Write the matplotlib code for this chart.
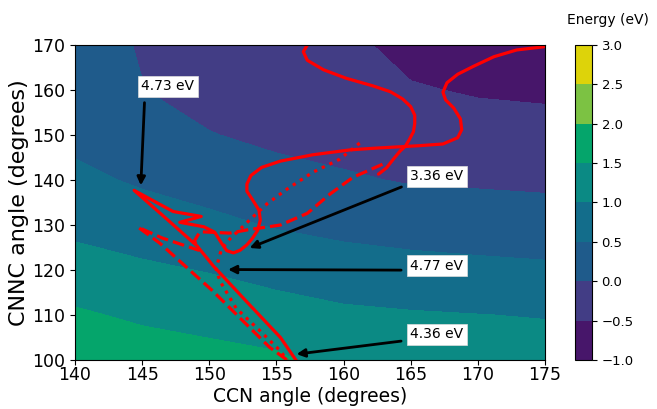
import numpy as np
import matplotlib
matplotlib.use("Agg")
import matplotlib.pyplot as plt

# grid of the energy surface
ccn = [140, 145, 150, 155, 160, 165, 170, 175]
cnnc = [100, 110, 120, 130, 140, 150, 160, 170]
energy = [
    [1.93, 1.755, 1.666, 1.578, 1.32, 1.28, 1.25, 1.22],
    [1.565, 1.42, 1.321, 1.205, 1.09, 1.04, 1.008, 0.976],
    [1.203, 1.084, 0.974, 0.831, 0.716, 0.662, 0.617, 0.579],
    [0.880, 0.738, 0.609, 0.465, 0.369, 0.296, 0.255, 0.218],
    [0.609, 0.438, 0.303, 0.174, 0.056, -0.035, -0.063, -0.092],
    [0.38, 0.243, 0.022, -0.116, -0.18, -0.252, -0.298, -0.333],
    [0.28, 0.01, -0.2, -0.3, -0.32, -0.459, -0.544, -0.578],
    [0.18, -0.03, -0.35, -0.36, -0.38, -0.655, -0.70, -0.75],
]
levels = np.arange(-1.0, 3.01, 0.5)
band_colors = ["#47166a", "#423d85", "#1f5b8b", "#136d8b", "#0b8a84",
               "#05a56b", "#7cc243", "#ddd30a"]

# trajectories (CCN, CNNC)
solid_a_x = [176.0, 174.9, 172.9, 171.2, 169.7, 168.5, 167.7, 167.4, 167.6, 168.2, 168.7, 168.8,
             168.5, 167.4, 165.5, 162.5, 160.5, 157.7, 155.3, 153.9, 153.1, 152.8, 152.8, 153.2,
             153.7, 153.8, 153.6, 153.2, 152.8, 152.3, 151.8, 151.3, 150.9, 150.4, 149.6, 147.8,
             149.4, 147.3, 144.4, 146.5, 149.1, 150.3, 152.8, 155.3, 156.4, 156.7]
solid_a_y = [171.0, 169.6, 168.9, 167.4, 165.3, 163.5, 161.6, 159.5, 157.8, 156.0, 153.6, 151.2,
             149.4, 148.0, 147.6, 147.1, 146.7, 145.6, 144.2, 142.8, 141.0, 139.1, 137.5, 135.7,
             133.3, 131.1, 128.8, 127.0, 125.6, 124.4, 123.8, 124.3, 126.0,
             128.4, 129.6, 130.6, 131.9, 133.0, 137.7, 132.2, 125.3, 120.9, 112.9, 105.0, 100.2, 99.0]
solid_b_x = [157.9, 157.3, 157.0, 157.3, 158.5, 160.2, 162.2, 163.5, 164.4, 165.0, 165.3, 165.3,
             165.2, 164.9, 164.6, 164.2, 163.7, 163.2, 162.6]
solid_b_y = [171.0, 170.0, 168.5, 166.6, 164.5, 162.6, 160.9, 159.6, 158.0, 156.3, 154.4, 152.5,
             150.7, 149.0, 147.5, 146.4, 144.6, 142.7, 141.3]
dashed_x = [162.9, 160.7, 159.0, 157.3, 155.3, 152.8, 151.5, 149.3, 148.9, 149.2, 146.5, 144.7,
            146.3, 150.2, 154.5, 155.7, 156.0]
dashed_y = [143.5, 140.6, 136.9, 132.6, 130.0, 128.9, 128.2, 128.5, 126.5, 124.4, 127.1, 129.5,
            126.0, 115.5, 102.8, 100.2, 99.0]
dotted_x = [161.2, 159.7, 157.7, 155.8, 154.3, 153.0, 151.5, 150.9, 150.5, 150.8, 152.0, 153.8,
            155.3, 156.0]
dotted_y = [148.2, 144.6, 141.7, 138.0, 134.7, 131.1, 126.8, 124.6, 120.2, 117.5, 111.5, 106.4,
            102.0, 99.0]

# labels: text, arrow tip, text position, where the arrow leaves the box
ann_text = ["4.73 eV", "3.36 eV", "4.77 eV", "4.36 eV"]
ann_tip = [(144.9, 138.8), (153.0, 124.9), (151.4, 120.1), (156.5, 101.3)]
ann_pos = [(146.9, 160.8), (166.95, 140.8), (166.95, 120.9), (166.95, 105.7)]
ann_rel = [(0.07, 0.0), (0.0, 0.0), (0.0, 0.2), (0.0, 0.1)]

fig = plt.figure(figsize=(6.57, 4.09), dpi=100)
ax = fig.add_axes([0.1142, 0.1198, 0.7153, 0.7702])
cax = fig.add_axes([0.875, 0.1198, 0.0259, 0.7702])

X, Y = np.meshgrid(ccn, cnnc)
cf = ax.contourf(X, Y, np.array(energy), levels=levels, colors=band_colors)

lw = 2.3
ax.plot(solid_a_x, solid_a_y, color="red", lw=lw, solid_capstyle="round", solid_joinstyle="round")
ax.plot(solid_b_x, solid_b_y, color="red", lw=lw, solid_capstyle="round", solid_joinstyle="round")
ax.plot(dashed_x, dashed_y, color="red", lw=lw, ls="--")
ax.plot(dotted_x, dotted_y, color="red", lw=lw, ls=":")

for t, tip, pos, rel in zip(ann_text, ann_tip, ann_pos, ann_rel):
    ax.annotate(t, xy=tip, xytext=pos, fontsize=10, ha="center", va="center",
                bbox=dict(boxstyle="square,pad=0.25", fc="white", ec="#dddddd", lw=0.5),
                arrowprops=dict(arrowstyle="-|>", color="black", lw=2, mutation_scale=12,
                                shrinkA=4, shrinkB=0, relpos=rel))

ax.set_xlim(140, 175)
ax.set_ylim(100, 170)
ax.set_xticks(range(140, 176, 5))
ax.set_yticks(range(100, 171, 10))
ax.tick_params(labelsize=12.5)
ax.tick_params(axis="x", pad=1)
ax.set_xlabel("CCN angle (degrees)", fontsize=13.5, va="top")
ax.xaxis.set_label_coords(0.5, -0.087)
ax.set_ylabel("CNNC angle (degrees)", fontsize=16, labelpad=2)

cb = fig.colorbar(cf, cax=cax)
cb.set_ticks(levels)
cb.ax.tick_params(labelsize=9.5)
fig.text(0.925, 0.951, "Energy (eV)", fontsize=10, ha="center", va="center")

fig.savefig("out.png", dpi=100)
